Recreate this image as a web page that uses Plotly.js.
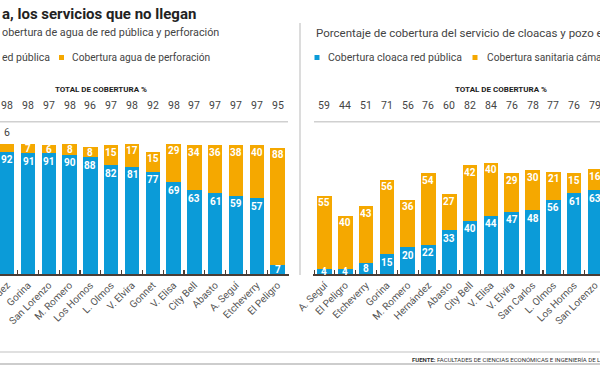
<!DOCTYPE html>
<html><head><meta charset="utf-8">
<script src="https://cdn.plot.ly/plotly-3.0.1.min.js"></script>
<style>html,body{margin:0;padding:0;background:#fff}#c{width:600px;height:365px}</style>
</head><body><div id="c"></div>
<script>
// ---- data ----
const aguaCats = ["Hernández","Gorina","San Lorenzo","M. Romero","Los Hornos","L. Olmos","V. Elvira","Gonnet","V. Elisa","City Bell","Abasto","A. Seguí","Etcheverry","El Peligro"];
const aguaRed = [92,91,91,90,88,82,81,77,69,63,61,59,57,7];
const aguaPerf = [6,7,6,8,8,15,17,15,29,34,36,38,40,88];
const aguaTotal = [98,98,97,98,96,97,98,92,98,97,97,97,97,95];

const cloacaCats = ["A. Seguí","El Peligro","Etcheverry","Gorina","M. Romero","Hernández","Abasto","City Bell","V. Elisa","V. Elvira","San Carlos","L. Olmos","Los Hornos","San Lorenzo"];
const cloacaRed = [4,4,8,15,20,22,33,40,44,47,48,56,61,63];
const cloacaPozo = [55,40,43,56,36,54,27,42,40,29,30,21,15,16];
const cloacaTotal = [59,44,51,71,56,76,60,82,84,76,78,77,76,79];

// ---- style ----
const W = 600, H = 365;
const BLUE = "#0b9bd8", ORANGE = "#f5a800", AX = "#4a3d36";
const FONT = "Roboto, 'Liberation Sans', Arial, sans-serif";
const px = x => x / W, py = y => (H - y) / H;
const BASE = 274, TOPY = 124, PXU = 1.327;
const YMAX = (BASE - TOPY) / PXU;

const traces = [
  {type:"bar", x:aguaCats, y:aguaRed, xaxis:"x", yaxis:"y", marker:{color:BLUE}, hoverinfo:"skip"},
  {type:"bar", x:aguaCats, y:aguaPerf, xaxis:"x", yaxis:"y", marker:{color:ORANGE}, hoverinfo:"skip"},
  {type:"bar", x:cloacaCats, y:cloacaRed, xaxis:"x2", yaxis:"y2", marker:{color:BLUE}, hoverinfo:"skip"},
  {type:"bar", x:cloacaCats, y:cloacaPozo, xaxis:"x2", yaxis:"y2", marker:{color:ORANGE}, hoverinfo:"skip"}
];

const ann = [];
const shapes = [];
function segLabel(xref, yref, cat, top, val, maxShift) {
  const h = val * PXU;
  ann.push({xref, yref, x:cat, y:top, text:String(val), showarrow:false,
    yanchor:"middle", yshift:-Math.min(maxShift, h/2 + 0.3),
    font:{family:FONT, size:10, color:"#fff", weight:700}});
}
aguaCats.forEach((c,i) => {
  segLabel("x","y",c,aguaRed[i],aguaRed[i],8);
  if (i === 0) {
    ann.push({xref:"x", yref:"y", x:c, y:aguaRed[i]+aguaPerf[i], text:String(aguaPerf[i]), showarrow:false,
      yanchor:"bottom", yshift:3, font:{family:FONT, size:10.5, color:"#444"}});
  } else segLabel("x","y",c,aguaRed[i]+aguaPerf[i],aguaPerf[i],7);
  ann.push({xref:"x", yref:"paper", x:c, y:py(105), text:String(aguaTotal[i]), showarrow:false,
    yanchor:"middle", font:{family:FONT, size:10.5, color:"#444"}});
});
cloacaCats.forEach((c,i) => {
  segLabel("x2","y2",c,cloacaRed[i],cloacaRed[i],8);
  segLabel("x2","y2",c,cloacaRed[i]+cloacaPozo[i],cloacaPozo[i],7);
  ann.push({xref:"x2", yref:"paper", x:c, y:py(105), text:String(cloacaTotal[i]), showarrow:false,
    yanchor:"middle", font:{family:FONT, size:10.5, color:"#444"}});
});

function txt(x, y, text, size, color, extra) {
  ann.push(Object.assign({xref:"paper", yref:"paper", x:px(x), y:py(y), text, showarrow:false,
    xanchor:"left", yanchor:"middle", font:{family:FONT, size, color}}, extra||{}));
}
txt(0, 14, "<b>a, los servicios que no llegan</b>", 15, "#222");
txt(0, 33, "obertura de agua de red pública y perforación", 10.8, "#444");
txt(314, 33, "Porcentaje de cobertura del servicio de cloacas y pozo en cámara séptica", 11.5, "#444");
txt(0, 57.5, "ed pública", 10.5, "#444");
txt(70, 57.5, "Cobertura agua de perforación", 10.2, "#444");
txt(326, 57.5, "Cobertura cloaca red pública", 10.5, "#444");
txt(485, 57.5, "Cobertura sanitaria cámara séptica", 10.2, "#444");
txt(101, 89, "<b>TOTAL DE COBERTURA %</b>", 8, "#222", {xanchor:"center"});
txt(501, 89, "<b>TOTAL DE COBERTURA %</b>", 8, "#222", {xanchor:"center"});
txt(410, 359, "<b>FUENTE:</b> FACULTADES DE CIENCIAS ECONÓMICAS E INGENIERÍA DE LA UNLP", 6, "#333");

function sq(x, color) {
  shapes.push({type:"rect", xref:"paper", yref:"paper", x0:px(x), x1:px(x+5), y0:py(60), y1:py(55),
    fillcolor:color, line:{width:0}});
}
sq(59, ORANGE); sq(314.5, BLUE); sq(472.5, ORANGE);
function hline(x0, x1, y, color, w) {
  shapes.push({type:"line", xref:"paper", yref:"paper", x0:px(x0), x1:px(x1), y0:py(y), y1:py(y), line:{color, width:w}});
}
hline(0, 288, 121.7, "#d0d0d0", 1.5);
hline(314, 600, 121.7, "#d0d0d0", 1.5);
hline(0, 600, 352, "#d6d6d6", 1.5);
hline(0, 600, 364, "#bdbdbd", 1.5);
shapes.push({type:"line", xref:"paper", yref:"paper", x0:px(300), x1:px(300), y0:py(23), y1:py(275), line:{color:"#d0d0d0", width:1.5}});

const xcommon = {type:"category", showline:true, linecolor:AX, linewidth:1.5, ticks:"inside",
  tickson:"boundaries", ticklen:4, tickwidth:1.2, tickcolor:AX, tickangle:-45,
  tickfont:{family:FONT, size:10, color:"#555"}, showgrid:false, zeroline:false, fixedrange:true};
const ycommon = {range:[0, YMAX], domain:[py(BASE), py(TOPY)], showgrid:false, zeroline:false,
  showticklabels:false, showline:false, ticks:"", fixedrange:true};

const layout = {
  width:W, height:H, margin:{l:0, r:0, t:0, b:0}, paper_bgcolor:"#fff", plot_bgcolor:"rgba(0,0,0,0)",
  barmode:"stack", bargap:0.3, showlegend:false,
  xaxis:Object.assign({}, xcommon, {domain:[0, px(289)], range:[-7.2/20.8, (289-7.2)/20.8], anchor:"y"}),
  yaxis:Object.assign({}, ycommon, {anchor:"x"}),
  xaxis2:Object.assign({}, xcommon, {domain:[px(313), 1], range:[(313-324.5)/20.8, (600-324.5)/20.8], anchor:"y2"}),
  yaxis2:Object.assign({}, ycommon, {anchor:"x2"}),
  annotations:ann, shapes:shapes
};
Plotly.newPlot("c", traces, layout, {staticPlot:true, displayModeBar:false});
</script></body></html>
